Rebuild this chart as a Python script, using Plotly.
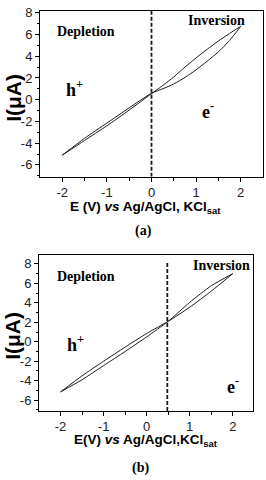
import plotly.graph_objects as go

W, H = 266, 480

# ---------------- data ----------------
E_a = [-2, -1.5, -1, -0.5, 0, 0.25, 0.5, 0.75, 1, 1.25, 1.5, 1.75, 2]
I_a_fwd = [-5.1, -3.75, -2.4, -0.95, 0.55, 1.3, 2.1, 3.0, 3.85, 4.65, 5.4, 6.1, 6.75]
I_a_rev = [-5.1, -3.55, -2.15, -0.75, 0.6, 1.0, 1.45, 2.05, 2.75, 3.55, 4.4, 5.45, 6.75]

E_b = [-2, -1.5, -1, -0.5, 0, 0.5, 1, 1.5, 2]
I_b_fwd = [-5.15, -3.9, -2.45, -1.0, 0.5, 2.1, 4.05, 5.75, 7.0]
I_b_rev = [-5.15, -3.5, -2.0, -0.55, 0.85, 2.1, 3.55, 5.2, 7.0]

vline_a_x = [0, 0]
vline_a_y = [-7.1, 8.17]
vline_b_x = [0.48, 0.48]
vline_b_y = [-7.1, 8.2]

x_ticks = [-2, -1, 0, 1, 2]
x_ticktext = ["-2", "-1", "0", "1", "2"]
y_ticks = [-6, -4, -2, 0, 2, 4, 6, 8]
y_ticktext = ["-6", "-4", "-2", "0", "2", "4", "6", "8"]


def px(x):
    return x / W


def py(y):
    return 1 - y / H


fig = go.Figure()
curve = dict(color="#1a1a1a", width=1)
dash = dict(color="#1a1a1a", width=1.8, dash="4px,2px")

fig.add_trace(go.Scatter(x=E_a, y=I_a_fwd, mode="lines", line=dict(curve, shape="spline", smoothing=0.6), xaxis="x", yaxis="y"))
fig.add_trace(go.Scatter(x=E_a, y=I_a_rev, mode="lines", line=dict(curve, shape="spline", smoothing=0.6), xaxis="x", yaxis="y"))
fig.add_trace(go.Scatter(x=vline_a_x, y=vline_a_y, mode="lines", line=dash, xaxis="x", yaxis="y"))

fig.add_trace(go.Scatter(x=E_b, y=I_b_fwd, mode="lines", line=dict(curve, shape="spline", smoothing=0.6), xaxis="x2", yaxis="y2"))
fig.add_trace(go.Scatter(x=E_b, y=I_b_rev, mode="lines", line=dict(curve, shape="spline", smoothing=0.6), xaxis="x2", yaxis="y2"))
fig.add_trace(go.Scatter(x=vline_b_x, y=vline_b_y, mode="lines", line=dash, xaxis="x2", yaxis="y2"))

tickfont = dict(family="Liberation Sans, Arial", size=13, color="#222")


def xaxis(domain, rng, anchor):
    return dict(domain=domain, range=rng, anchor=anchor, showgrid=False, zeroline=False,
                showline=True, linecolor="black", linewidth=1, mirror=True,
                tickmode="array", tickvals=x_ticks, ticktext=x_ticktext,
                ticks="outside", ticklen=4, tickcolor="black", tickfont=tickfont,
                ticklabeloverflow="allow",
                minor=dict(tickmode="array", tickvals=[-1.5, -0.5, 0.5, 1.5], ticks="outside", ticklen=3, tickcolor="black"))


def yaxis(domain, rng, anchor):
    return dict(domain=domain, range=rng, anchor=anchor, showgrid=False, zeroline=False,
                showline=True, linecolor="black", linewidth=1, mirror=True,
                tickmode="array", tickvals=y_ticks, ticktext=y_ticktext,
                ticks="outside", ticklen=4, tickcolor="black", tickfont=tickfont,
                ticklabeloverflow="allow",
                minor=dict(tickmode="array", tickvals=[-7, -5, -3, -1, 1, 3, 5, 7], ticks="outside", ticklen=2.5, tickcolor="black"))


fig.update_layout(
    width=W, height=H, margin=dict(l=0, r=0, t=0, b=0),
    paper_bgcolor="white", plot_bgcolor="white", showlegend=False,
    xaxis=xaxis([px(40), px(263)], [-2.5, 2.5], "y"),
    yaxis=yaxis([py(173), py(5)], [-7.1, 8.17], "x"),
    xaxis2=xaxis([px(39), px(253)], [-2.5, 2.47], "y2"),
    yaxis2=yaxis([py(410), py(252.3)], [-7.1, 8.9], "x2"),
)

times = "Liberation Serif, Times New Roman"
arial = "Liberation Sans, Arial"


def ann(text, x, y, size, family, angle=0, xanchor="center"):
    fig.add_annotation(text=text, x=px(x), y=py(y), xref="paper", yref="paper",
                       showarrow=False, xanchor=xanchor, yanchor="middle", textangle=angle,
                       font=dict(family=family, size=size, color="black"))


# panel (a)
ann("<b>Depletion</b>", 86, 25.5, 14, times)
ann("<b>Inversion</b>", 216, 15, 14, times)
ann("<b>h<sup>+</sup></b>", 74, 84, 18, times)
ann("<b>e<sup>-</sup></b>", 208, 106, 18, times)
ann("<b>I(μA)</b>", 14, 93, 21, arial, angle=-90)
ann("<b>E (V) <i>vs</i> Ag/AgCl, KCl<sub>sat</sub></b>", 145, 204, 13.5, arial)
ann("<b>(a)</b>", 143, 228, 14, times)

# panel (b)
ann("<b>Depletion</b>", 86, 274, 14, times)
ann("<b>Inversion</b>", 221, 263, 14, times)
ann("<b>h<sup>+</sup></b>", 75, 342, 18, times)
ann("<b>e<sup>-</sup></b>", 233, 384, 18, times)
ann("<b>I(μA)</b>", 13, 334, 21, arial, angle=-90)
ann("<b>E(V) <i>vs</i> Ag/AgCl,KCl<sub>sat</sub></b>", 146, 440, 13.5, arial)
ann("<b>(b)</b>", 140, 468, 14, times)

fig.write_html("out.html", config={"displayModeBar": False},
               post_script="document.body.style.margin='0';document.body.style.overflow='hidden';")
